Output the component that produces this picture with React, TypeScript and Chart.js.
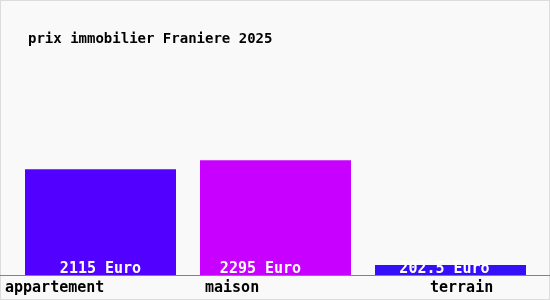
import React, { useEffect, useRef } from "react";
import { Chart, registerables } from "chart.js";

Chart.register(...registerables);

const title = "prix immobilier Franiere 2025";
const categories = ["appartement", "maison", "terrain"];
const values = [2115, 2295, 202.5];
const valueLabels = ["2115 Euro", "2295 Euro", "202.5 Euro"];
const barColors = ["#5200ff", "#c800ff", "#3410f8"];
const yMax = 4000;

const FONT = "'DejaVu Sans Mono', monospace";

const decorPlugin = {
  id: "decor",
  beforeDraw(chart: any) {
    const { ctx, width, height } = chart;
    ctx.save();
    ctx.fillStyle = "#f9f9f9";
    ctx.fillRect(0, 0, width, height);
    ctx.strokeStyle = "#dcdcdc";
    ctx.lineWidth = 1;
    ctx.strokeRect(0.5, 0.5, width - 1, height - 1);
    ctx.fillStyle = "#000";
    ctx.font = `bold 14px ${FONT}`;
    ctx.textBaseline = "alphabetic";
    ctx.textAlign = "left";
    ctx.fillText(title, 28, 43);
    ctx.restore();
  },
  afterDatasetsDraw(chart: any) {
    const { ctx, width } = chart;
    const meta = chart.getDatasetMeta(0);
    const yBase = chart.scales.y.getPixelForValue(0);
    ctx.save();
    ctx.strokeStyle = "#2aa5b5";
    ctx.lineWidth = 1;
    ctx.beginPath();
    ctx.moveTo(0, Math.round(yBase) + 0.5);
    ctx.lineTo(width, Math.round(yBase) + 0.5);
    ctx.stroke();

    const valueOffsets = [0, -15, -6];
    const catOffsets = [-20, 5, 55];
    ctx.font = `bold 15px ${FONT}`;
    meta.data.forEach((bar: any, i: number) => {
      ctx.fillStyle = "#ffffff";
      ctx.textAlign = "center";
      ctx.fillText(valueLabels[i], bar.x + valueOffsets[i], yBase - 2);
      ctx.fillStyle = "#000000";
      ctx.textAlign = "left";
      const left = bar.x - bar.width / 2;
      ctx.fillText(categories[i], left + catOffsets[i], yBase + 17);
    });
    ctx.restore();
  },
};

export default function App() {
  const ref = useRef<HTMLCanvasElement>(null);
  useEffect(() => {
    document.body.style.margin = "0";
    const chart = new Chart(ref.current!, {
      type: "bar",
      data: {
        labels: categories,
        datasets: [
          {
            data: values,
            backgroundColor: barColors,
            borderWidth: 0,
            categoryPercentage: 1,
            barPercentage: 151 / 175,
          },
        ],
      },
      options: {
        animation: false,
        responsive: false,
        layout: { padding: { left: 13, right: 12, top: 75, bottom: 25 } },
        plugins: { legend: { display: false }, tooltip: { enabled: false } },
        scales: {
          x: { display: false },
          y: { display: false, min: 0, max: yMax },
        },
      },
      plugins: [decorPlugin],
    });
    return () => chart.destroy();
  }, []);
  return (
    <div style={{ width: 550, height: 300 }}>
      <canvas ref={ref} width={550} height={300} />
    </div>
  );
}
